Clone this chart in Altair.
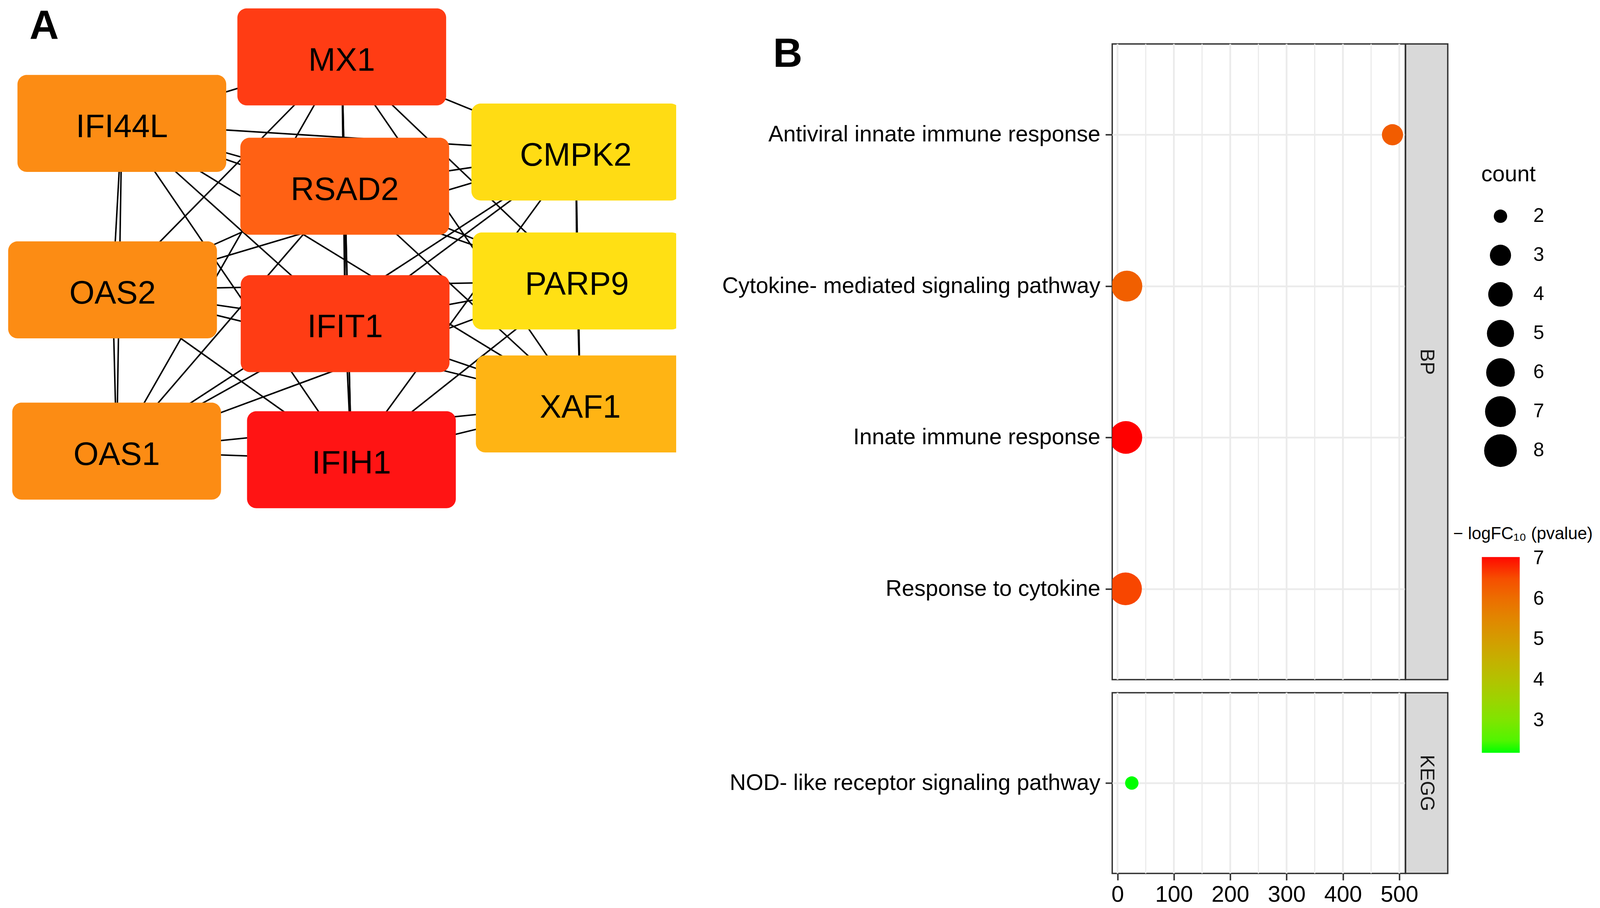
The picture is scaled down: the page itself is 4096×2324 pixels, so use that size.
import altair as alt
import pandas as pd

S = 0.951
FONT = "Liberation Sans, Arial, DejaVu Sans, sans-serif"

# ---------------- Panel A : hub-gene network ----------------
genes = ["MX1", "IFI44L", "CMPK2", "RSAD2", "OAS2", "PARP9", "IFIT1", "XAF1", "OAS1", "IFIH1"]
gene_x = [920, 328, 1550, 928, 303, 1553, 929, 1562, 314, 946]      # layout coordinates
gene_y = [150, 329, 406, 498, 777, 753, 868, 1084, 1211, 1234]
gene_rank = [2, 5, 9, 4, 5, 10, 2, 8, 5, 1]
rank_levels = [1, 2, 4, 5, 8, 9, 10]

edge_src = (["MX1"] * 9 + ["IFI44L"] * 8 + ["CMPK2"] * 7 + ["RSAD2"] * 6 + ["OAS2"] * 5
            + ["PARP9"] * 4 + ["IFIT1"] * 3 + ["XAF1"] * 2 + ["OAS1"])
edge_dst = ["IFI44L", "CMPK2", "RSAD2", "OAS2", "PARP9", "IFIT1", "XAF1", "OAS1", "IFIH1",
            "CMPK2", "RSAD2", "OAS2", "PARP9", "IFIT1", "XAF1", "OAS1", "IFIH1",
            "RSAD2", "OAS2", "PARP9", "IFIT1", "XAF1", "OAS1", "IFIH1",
            "OAS2", "PARP9", "IFIT1", "XAF1", "OAS1", "IFIH1",
            "PARP9", "IFIT1", "XAF1", "OAS1", "IFIH1",
            "IFIT1", "XAF1", "OAS1", "IFIH1",
            "XAF1", "OAS1", "IFIH1",
            "OAS1", "IFIH1",
            "IFIH1"]

# ---------------- Panel B : enrichment dot plot ----------------
terms = ["Antiviral innate immune response", "Cytokine- mediated signaling pathway",
         "Innate immune response", "Response to cytokine", "NOD- like receptor signaling pathway"]
term_category = ["BP", "BP", "BP", "BP", "KEGG"]
term_x = [488.0, 16.6, 14.8, 14.2, 25.3]
term_count = [3, 7, 8, 8, 2]
term_logp = [6.3, 6.25, 7.03, 6.6, 2.2]
categories = ["BP", "KEGG"]
x_ticks = [0, 100, 200, 300, 400, 500]
x_minor = [50, 150, 250, 350, 450]
count_breaks = [2, 3, 4, 5, 6, 7, 8]
logp_breaks = [3, 4, 5, 6, 7]

# ================= Panel A =================
nodes = pd.DataFrame({"gene": genes, "x": gene_x, "y": gene_y, "rank": gene_rank})
pos = {g: (x, y) for g, x, y in zip(genes, gene_x, gene_y)}
edges = pd.DataFrame({
    "x": [pos[s][0] for s in edge_src], "y": [pos[s][1] for s in edge_src],
    "xe": [pos[t][0] for t in edge_dst], "ye": [pos[t][1] for t in edge_dst],
})

A_W, A_H = 1723, 1292
xA = alt.Scale(domain=[8 / S, (8 + A_W) / S], nice=False, zero=False)
yA = alt.Scale(domain=[8 / S, (8 + A_H) / S], nice=False, zero=False, reverse=True)
BOX_HW, BOX_HH = 281, 130.5

edge_layer = alt.Chart(edges).mark_rule(color="#000000", strokeWidth=3.8, clip=True).encode(
    x=alt.X("x:Q", scale=xA, axis=None), y=alt.Y("y:Q", scale=yA, axis=None),
    x2="xe:Q", y2="ye:Q")

box_layer = alt.Chart(nodes).transform_calculate(
    bx1=f"datum.x - {BOX_HW}", bx2=f"datum.x + {BOX_HW}",
    by1=f"datum.y - {BOX_HH}", by2=f"datum.y + {BOX_HH}",
).mark_rect(cornerRadius=24, clip=True).encode(
    x=alt.X("bx1:Q", scale=xA, axis=None), x2="bx2:Q",
    y=alt.Y("by1:Q", scale=yA, axis=None), y2="by2:Q",
    fill=alt.Fill("rank:O", legend=None, scale=alt.Scale(
        domain=rank_levels,
        range=["#FF1414", "#FF3C14", "#FF6114", "#FC8C14", "#FFB414", "#FFDC14", "#FFE014"])),
)

label_layer = alt.Chart(nodes).mark_text(font=FONT, fontSize=83, color="#000000",
                                         baseline="middle", dy=10).encode(
    x=alt.X("x:Q", scale=xA, axis=None), y=alt.Y("y:Q", scale=yA, axis=None), text="gene:N")

tagA = alt.Chart(pd.DataFrame({"t": ["A"]})).mark_text(
    font=FONT, fontSize=104, fontWeight="bold", align="left", baseline="alphabetic", color="#000000"
).encode(x=alt.value(67.4), y=alt.value(88), text="t:N")

panelA = alt.layer(edge_layer, box_layer, label_layer, tagA).properties(width=A_W, height=A_H)

# ================= Panel B =================
dfB = pd.DataFrame({"term": terms, "cat": term_category, "x": term_x,
                    "count": term_count, "logp": term_logp})

PW = 750.3
BP_H = 1627.0
KEGG_H = 462.4
STRIP_W = 108

xB = alt.Scale(domain=[-9.43, 510.75], nice=False, zero=False)

size_scale = alt.Scale(domain=count_breaks,
                       range=[1172, 2938, 3940, 4819, 5363, 6230, 7004])
color_scale = alt.Scale(domain=[min(term_logp), max(term_logp)], range=["#00FF00", "#FF0000"],
                        interpolate="lab", nice=False, zero=False)

size_legend = alt.Legend(
    orient="none", legendX=3784, legendY=407.8, direction="vertical",
    title="count", titleFont=FONT, titleFontSize=57, titleFontWeight="normal", titleColor="#000000",
    titlePadding=27.8, titleAnchor="start", titleAlign="left",
    labelFont=FONT, labelFontSize=50, labelColor="#000000", labelOffset=42,
    symbolOffset=7.2, clipHeight=99.7, rowPadding=0, values=count_breaks,
    symbolType="circle", symbolFillColor="#000000", symbolStrokeWidth=0, symbolOpacity=1, padding=0)

color_legend = alt.Legend(
    orient="none", legendX=3785.5, legendY=1414.7, direction="vertical",
    gradientLength=501, gradientThickness=97, gradientStrokeWidth=0,
    labelFont=FONT, labelFontSize=50, labelColor="#000000", labelOffset=34.5,
    values=logp_breaks, format=".0f", padding=0)


def y_axis():
    return alt.Axis(title=None, domain=False, ticks=True, tickSize=17.4, tickWidth=3.8,
                    tickColor="#333333", labelFont=FONT, labelFontSize=57.5, labelColor="#000000",
                    labelPadding=13.3, labelLimit=3000, grid=True, gridColor="#EBEBEB", gridWidth=4.5)


def plot(cat, height, show_x, extra=()):
    sub_terms = [t for t, c in zip(terms, term_category) if c == cat]
    xaxis = (alt.Axis(title=None, values=x_ticks, grid=False, domain=False, ticks=True,
                      tickSize=17.4, tickWidth=3.8, tickColor="#333333", labelFont=FONT,
                      labelFontSize=58, labelColor="#000000", labelPadding=8.5)
             if show_x else None)
    minor = alt.Chart(pd.DataFrame({"g": x_minor})).mark_rule(color="#EBEBEB", strokeWidth=3).encode(
        x=alt.X("g:Q", scale=xB, axis=xaxis, title=None))
    major = alt.Chart(pd.DataFrame({"g": x_ticks})).mark_rule(color="#EBEBEB", strokeWidth=4.5).encode(
        x=alt.X("g:Q", scale=xB, axis=xaxis, title=None))
    pts = alt.Chart(dfB).transform_filter(alt.datum.cat == cat).mark_circle(
        opacity=1, clip=True, strokeWidth=0).encode(
        x=alt.X("x:Q", scale=xB, axis=xaxis, title=None),
        y=alt.Y("term:N", sort=sub_terms, scale=alt.Scale(type="point", padding=0.6), axis=y_axis()),
        size=alt.Size("count:Q", scale=size_scale, legend=size_legend, title="count"),
        color=alt.Color("logp:Q", scale=color_scale, legend=color_legend, title=None),
    )
    return alt.layer(minor, major, pts, *extra).properties(
        width=PW, height=height,
        view=alt.ViewBackground(stroke="#333333", strokeWidth=3.5, fill="white"))


def strip(cat, height):
    return alt.Chart(pd.DataFrame({"lab": [cat]})).mark_text(
        font=FONT, fontSize=50, color="#1A1A1A", angle=90, align="center", baseline="middle"
    ).encode(text="lab:N", x=alt.value(STRIP_W / 2), y=alt.value(height / 2)).properties(
        width=STRIP_W, height=height,
        view=alt.ViewBackground(fill="#D9D9D9", stroke="#333333", strokeWidth=3.5))


def spacer(w, h):
    return alt.Chart(pd.DataFrame({"z": [0]})).mark_point(opacity=0).encode(
        x=alt.value(0), y=alt.value(0)).properties(width=w, height=h)


tagB = alt.Chart(pd.DataFrame({"t": ["B"]})).mark_text(
    font=FONT, fontSize=104, fontWeight="bold", align="left", baseline="alphabetic", color="#000000"
).encode(x=alt.value(-868.3), y=alt.value(58.7), text="t:N")

color_title = alt.Chart(pd.DataFrame({"t": ["\u2212 logFC\u2081\u2080 (pvalue)"]})).mark_text(
    font=FONT, fontSize=43.7, align="left", baseline="middle", color="#000000"
).encode(x=alt.value(873), y=alt.value(1254), text="t:N")

bp_plot = plot(categories[0], BP_H, False, extra=(tagB, color_title))
kegg_plot = plot(categories[1], KEGG_H, True)

grid = alt.concat(
    spacer(1, 67.2), spacer(1, 67.2),
    bp_plot, strip(categories[0], BP_H),
    kegg_plot, strip(categories[1], KEGG_H),
    columns=2, spacing={"row": 33.5, "column": 0}, bounds="flush", align="each",
)

chart = alt.hconcat(panelA, grid, spacing=1116.3, bounds="flush").properties(
    padding=0, background="white"
).configure_view(stroke=None)

chart.save("out.html", embed_options={"renderer": "svg", "actions": False})
